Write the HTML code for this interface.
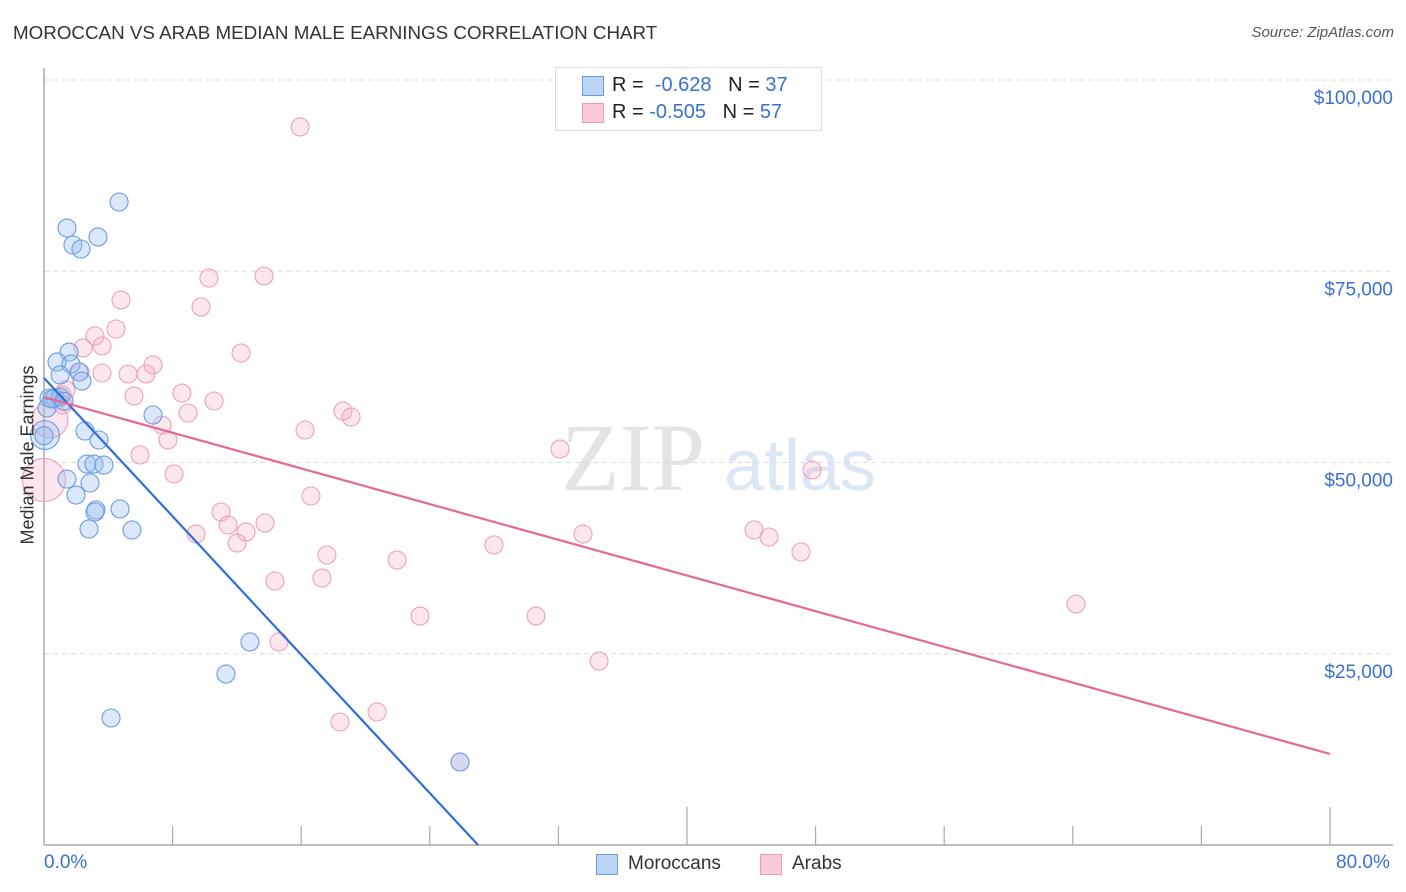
<!DOCTYPE html>
<html><head><meta charset="utf-8">
<style>
body{margin:0;background:#fff;font-family:"Liberation Sans",sans-serif;}
#wrap{position:relative;width:1406px;height:892px;overflow:hidden;}
.t{position:absolute;white-space:nowrap;}
</style></head>
<body>
<div id="wrap">
<div class="t" style="left:13px;top:22px;font-size:18.8px;color:#333;">MOROCCAN VS ARAB MEDIAN MALE EARNINGS CORRELATION CHART</div>
<div class="t" style="right:12px;top:24px;font-size:15px;color:#555;font-style:italic;">Source: ZipAtlas.com</div>
<svg id="svg" width="1406" height="892" style="position:absolute;left:0;top:0"></svg>
</div>
<script>
const yTicks=[25000,50000,75000,100000];
const yTickLabels=["$25,000","$50,000","$75,000","$100,000"];
const moroccanX=[4.67,1.43,3.36,1.80,2.30,1.56,0.81,1.68,1.00,2.18,2.36,0.31,0.68,1.00,0.19,0.06,6.78,2.55,3.42,2.67,3.11,3.73,1.43,2.86,1.99,3.23,3.17,4.73,2.80,5.47,12.81,11.32,4.17,25.88,0.50,1.25,0.0];
const moroccanY=[84.05,80.65,79.48,78.43,77.91,64.44,63.14,62.88,61.44,61.83,60.65,58.43,58.43,58.56,57.12,53.59,56.21,54.12,52.94,49.80,49.80,49.67,47.84,47.32,45.75,43.79,43.53,43.92,41.31,41.18,26.54,22.35,16.60,10.85,58.3,58.0,53.5];
const moroccanSize=[1,1,1,1,1,1,1,1,1,1,1,1,1,1,1,1.6,1,1,1,1,1,1,1,1,1,1,1,1,1,1,1,1,1,1,1,1,1];
const arabX=[15.93,10.26,13.69,4.79,9.77,4.48,3.17,3.61,2.43,12.26,6.78,5.23,6.35,3.61,2.24,1.37,1.12,5.60,8.58,10.58,8.96,1.18,18.60,19.10,7.34,16.24,7.71,0.37,0,5.97,8.09,32.10,47.78,16.61,11.01,11.45,13.75,9.46,12.57,12.01,44.17,45.10,27.99,33.53,47.09,17.60,21.96,14.37,17.29,23.39,30.61,64.20,14.62,34.53,20.72,18.41,25.88];
const arabY=[93.86,74.12,74.38,71.24,70.33,67.45,66.54,65.23,64.97,64.31,62.75,61.57,61.57,61.70,61.83,59.48,58.82,58.69,59.08,58.04,56.47,57.52,56.73,55.95,54.90,54.25,52.94,55.56,47.71,50.98,48.50,51.76,49.02,45.62,43.53,41.83,42.09,40.65,40.92,39.48,41.18,40.26,39.22,40.65,38.30,37.91,37.25,34.51,34.90,29.93,29.93,31.50,26.54,24.05,17.39,16.08,10.85];
const arabSize=[1,1,1,1,1,1,1,1,1,1,1,1,1,1,1,1,1,1,1,1,1,1,1,1,1,1,1,2,2.4,1,1,1,1,1,1,1,1,1,1,1,1,1,1,1,1,1,1,1,1,1,1,1,1,1,1,1,1];
const moroccanTrendX=[0,27.0];
const moroccanTrendY=[61.05,0];
const arabTrendX=[0,80];
const arabTrendY=[58.56,11.9];

const NS="http://www.w3.org/2000/svg";
const svg=document.getElementById('svg');
const X0=44,X1=1330,Y0=845,Y100=80;
const xs=p=>X0+p*(X1-X0)/80;
const ys=v=>Y0-v*(Y0-Y100)/100000;
function mk(tag,attrs,parent){const e=document.createElementNS(NS,tag);for(const k in attrs)e.setAttribute(k,attrs[k]);(parent||svg).appendChild(e);return e;}

let wm=mk('text',{x:633,y:490,'font-size':96,'font-family':'Liberation Serif, serif',fill:'#e4e4e4','text-anchor':'middle'});


wm.textContent='ZIP';
let wm2=mk('text',{x:800,y:490,'font-size':72,'font-family':'Liberation Sans, sans-serif',fill:'#dce6f5','text-anchor':'middle'});


wm2.textContent='atlas';

yTicks.forEach((v,i)=>{
  const g=mk('line',{x1:X0,x2:1393,y1:ys(v),y2:ys(v),stroke:'#dddddd','stroke-dasharray':'5,4'});
  
  
  const t=mk('text',{x:1393,y:ys(v)+24,'font-size':19,fill:'#3b70d1','text-anchor':'end'});
  
  
  t.textContent=yTickLabels[i];
});
let ax=mk('line',{x1:X0,x2:X0,y1:68,y2:Y0,stroke:'#aaa','stroke-width':1.5});


let bx=mk('line',{x1:X0,x2:1393,y1:Y0,y2:Y0,stroke:'#aaa','stroke-width':1.5});


for(let i=1;i<=10;i++){
  const p=i*8;const tall=(i==5||i==10);
  const tk=mk('line',{x1:xs(p),x2:xs(p),y1:tall?807:826,y2:Y0,stroke:'#aaa','stroke-width':1.2});
  
  
}
function pts(xa,ya,sa,fill,stroke,name){
  xa.forEach((p,i)=>{
    const c=mk('circle',{cx:xs(p),cy:ys(ya[i]*1000),r:9*sa[i],fill:fill,stroke:stroke,'stroke-width':1.1});
    
    
  });
}
pts(arabX,arabY,arabSize,'rgba(246,170,195,0.28)','#eca0ba','arab-point');
pts(moroccanX,moroccanY,moroccanSize,'rgba(150,188,242,0.35)','#6b9be0','moroccan-point');
let tl1=mk('line',{x1:xs(moroccanTrendX[0]),y1:ys(moroccanTrendY[0]*1000),x2:xs(moroccanTrendX[1]),y2:ys(moroccanTrendY[1]*1000),stroke:'#2f6fd6','stroke-width':2.2});


let tl2=mk('line',{x1:xs(arabTrendX[0]),y1:ys(arabTrendY[0]*1000),x2:xs(arabTrendX[1]),y2:ys(arabTrendY[1]*1000),stroke:'#e46a93','stroke-width':2.2});


</script>
<div class="t" style="left:16px;top:455px;transform:translate(-50%,-50%) rotate(-90deg);transform-origin:center;margin-left:12px;font-size:18px;color:#333;">Median Male Earnings</div>
<div class="t" style="left:44px;top:852px;font-size:19px;color:#3b70d1;">0.0%</div>
<div class="t" style="left:1336px;top:852px;font-size:19px;color:#3b70d1;">80.0%</div>
<div style="position:absolute;left:555px;top:67px;width:265px;height:62px;border:1px solid #ddd;background:#fff;font-size:20px;">
  <div style="position:absolute;left:26px;top:8px;width:20px;height:18px;background:#bcd4f6;border:1px solid #6b9be0;"></div>
  <div class="t" style="left:56px;top:6px;color:#222;">R = <span style="color:#3b70d1">&nbsp;-0.628</span>&nbsp;&nbsp;&nbsp;N = <span style="color:#3b70d1">37</span></div>
  <div style="position:absolute;left:26px;top:35px;width:20px;height:18px;background:#fbcadb;border:1px solid #ec9ab6;"></div>
  <div class="t" style="left:56px;top:33px;color:#222;">R = <span style="color:#3b70d1">-0.505</span>&nbsp;&nbsp;&nbsp;N = <span style="color:#3b70d1">57</span></div>
</div>
<div style="position:absolute;left:596px;top:854px;width:20px;height:19px;background:#bcd4f6;border:1px solid #6b9be0;"></div>
<div class="t" style="left:628px;top:853px;font-size:19px;color:#333;">Moroccans</div>
<div style="position:absolute;left:760px;top:854px;width:20px;height:19px;background:#fbcadb;border:1px solid #ec9ab6;"></div>
<div class="t" style="left:792px;top:853px;font-size:19px;color:#333;">Arabs</div>
</body></html>
